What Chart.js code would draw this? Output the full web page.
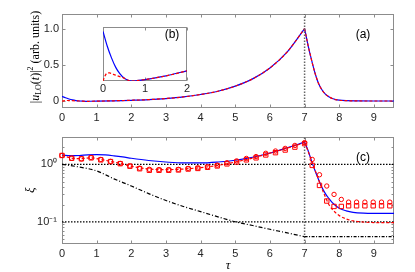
<!DOCTYPE html>
<html lang="en">
<head>
  <meta charset="UTF-8">
  <title>|u_LO(t)|^2 and xi vs tau</title>
  <script src="https://cdn.jsdelivr.net/npm/chart.js"></script>
  <style>
    * { margin: 0; padding: 0; box-sizing: border-box; }
    body { width: 415px; height: 272px; background: #fff; position: relative; overflow: hidden; }
    canvas { position: absolute; }
    #top { left: 0; top: 0; }
    #bottom { left: 0; top: 125px; }
    #inset { left: 97px; top: 24px; }
  </style>
</head>
<body>
  <canvas id="top" width="415" height="125"></canvas>
  <canvas id="bottom" width="415" height="147"></canvas>
  <canvas id="inset" width="95" height="72"></canvas>

  <script>
    const tSwitch = 7;
    const xMax = 9.58;
    const xTicks = [0, 1, 2, 3, 4, 5, 6, 7, 8, 9];
    const uTicks = [0, 0.5, 1];
    const insetTicks = [0, 1, 2];
    const xiTicks = [0.1, 1];
    const xiMinor = [0.05, 0.06, 0.07, 0.08, 0.09, 0.2, 0.3, 0.4, 0.5, 0.6, 0.7, 0.8, 0.9, 2, 3];

    // panel (a)/(b): |u_LO(t)|^2
    const tRise = [0, 0.1, 0.2, 0.3, 0.4, 0.5, 0.6, 0.7, 0.8, 1, 1.5, 2, 2.5, 3, 3.5, 4, 4.5, 5, 5.5, 6, 6.5, 7];
    const uRise = [0.07, 0.05, 0.034, 0.021, 0.012, 0.006, 0.003, 0.002, 0.0025, 0.004, 0.009, 0.016, 0.025, 0.04, 0.062, 0.095, 0.14, 0.21, 0.31, 0.46, 0.68, 1.0];
    const tFall = [7, 7.1, 7.2, 7.3, 7.4, 7.5, 7.6, 7.7, 7.8, 7.9, 8.0, 8.2, 8.5, 9, 9.6];
    const uFall = [1.0, 0.77, 0.57, 0.39, 0.25, 0.16, 0.1, 0.065, 0.04, 0.025, 0.017, 0.01, 0.007, 0.006, 0.006];
    const tRedStart = [0, 0.04, 0.08, 0.12, 0.16, 0.2, 0.25, 0.3, 0.4, 0.5];
    const uRedStart = [0.002, 0.008, 0.012, 0.013, 0.013, 0.012, 0.011, 0.01, 0.008, 0.006];

    // panel (c): xi
    const tXiBlue = [0, 0.25, 0.5, 0.75, 1, 1.25, 1.5, 1.75, 2, 2.5, 3, 3.5, 4, 4.5, 5, 5.5, 6, 6.5, 7];
    const xiBlue = [1.45, 1.42, 1.43, 1.47, 1.48, 1.46, 1.41, 1.35, 1.28, 1.17, 1.1, 1.06, 1.06, 1.1, 1.18, 1.33, 1.58, 1.95, 2.45];
    const tXiRed = [0, 0.28, 0.56, 0.84, 1.12, 1.4, 1.68, 1.96, 2.5, 3, 3.5, 4, 4.5, 5, 5.5, 6, 6.5, 7];
    const xiRed = [1.43, 1.29, 1.26, 1.3, 1.22, 1.13, 1.04, 0.94, 0.83, 0.81, 0.83, 0.88, 0.96, 1.1, 1.29, 1.57, 1.92, 2.4];
    const tXiFall = [7, 7.1, 7.2, 7.3, 7.4, 7.5, 7.6, 7.7, 7.8, 7.9, 8, 8.2, 8.4, 8.7, 9, 9.6];
    const xiBlueFall = [2.45, 1.75, 1.15, 0.78, 0.55, 0.4, 0.31, 0.255, 0.215, 0.19, 0.172, 0.155, 0.146, 0.141, 0.14, 0.14];
    const xiRedFall = [2.4, 1.7, 1.15, 0.8, 0.55, 0.38, 0.27, 0.2, 0.165, 0.143, 0.128, 0.112, 0.104, 0.099, 0.097, 0.097];
    const tXiBlack = [0, 0.5, 1, 1.5, 2, 2.5, 3, 3.5, 4, 4.5, 5, 5.5, 6, 6.5, 7];
    const xiBlack = [1.0, 0.9, 0.77, 0.56, 0.42, 0.31, 0.235, 0.185, 0.15, 0.122, 0.1, 0.086, 0.074, 0.064, 0.055];
    const xiFloor = 0.055;
    const xiLevels = [1, 0.1];

    const tMarks = [0, 0.28, 0.56, 0.84, 1.12, 1.4, 1.68, 1.96, 2.24, 2.52, 2.8, 3.08, 3.36, 3.64, 3.92, 4.2, 4.48, 4.76, 5.04, 5.32, 5.6, 5.88, 6.16, 6.44, 6.72, 7.0,
                    7.22, 7.43, 7.64, 7.85, 8.06, 8.27, 8.5, 8.74, 8.98, 9.22, 9.46];
    const xiCircles = [1.43, 1.28, 1.25, 1.32, 1.22, 1.13, 1.04, 0.94, 0.86, 0.82, 0.81, 0.81, 0.82, 0.85, 0.87, 0.91, 0.97, 1.07, 1.15, 1.27, 1.37, 1.56, 1.71, 1.9, 2.14, 2.4,
                       1.22, 0.66, 0.42, 0.3, 0.245, 0.22, 0.22, 0.22, 0.22, 0.22, 0.22];
    const xiSquares = [1.43, 1.28, 1.25, 1.3, 1.2, 1.12, 1.03, 0.93, 0.84, 0.79, 0.79, 0.79, 0.8, 0.83, 0.85, 0.89, 0.94, 1.02, 1.1, 1.2, 1.3, 1.46, 1.6, 1.78, 2.0, 2.3,
                       0.96, 0.43, 0.23, 0.185, 0.185, 0.19, 0.19, 0.19, 0.19, 0.19, 0.19];

    const BLUE = '#0000ff', RED = '#ff0000';
    const SANS = "'Liberation Sans', Arial, sans-serif";
    const SERIF = "'Liberation Serif', 'Times New Roman', serif";
    Chart.defaults.font.family = SANS;
    Chart.defaults.font.size = 11;
    Chart.defaults.color = '#262626';

    const pts = (xs, ys) => xs.map((x, i) => ({ x, y: ys[i] }));

    function line(data, color, dash, order, smooth) {
      return {
        data, showLine: true, borderColor: color, borderDash: dash, borderWidth: 1.2,
        pointRadius: 0, fill: false, order,
        cubicInterpolationMode: smooth ? 'monotone' : 'default', tension: 0
      };
    }
    function marks(data, style, radius, order) {
      return {
        data, showLine: false, pointStyle: style, pointRadius: radius, borderWidth: 1,
        borderColor: RED, backgroundColor: 'rgba(0,0,0,0)', order, clip: 6
      };
    }

    // box, inward ticks and panel letter
    const frame = {
      id: 'frame',
      beforeDatasetsDraw(chart, args, o) {
        const { ctx, chartArea: a, scales: { x, y } } = chart;
        const L = Math.round(a.left) + 0.5, R = Math.round(a.right) - 0.5;
        const T = Math.round(a.top) + 0.5, B = Math.round(a.bottom) - 0.5;
        ctx.save();
        ctx.strokeStyle = '#8c8c8c';
        ctx.lineWidth = 1;
        ctx.beginPath();
        x.ticks.forEach(t => {
          const p = Math.round(x.getPixelForValue(t.value)) + 0.5;
          ctx.moveTo(p, B); ctx.lineTo(p, B - 3);
          ctx.moveTo(p, T); ctx.lineTo(p, T + 3);
        });
        (o.yTicks || []).forEach(v => {
          const p = Math.round(y.getPixelForValue(v)) + 0.5;
          ctx.moveTo(L, p); ctx.lineTo(L + 3, p);
          ctx.moveTo(R, p); ctx.lineTo(R - 3, p);
        });
        (o.yMinor || []).forEach(v => {
          const p = Math.round(y.getPixelForValue(v)) + 0.5;
          ctx.moveTo(L, p); ctx.lineTo(L + 2, p);
          ctx.moveTo(R, p); ctx.lineTo(R - 2, p);
        });
        ctx.stroke();
        ctx.strokeRect(L, T, R - L, B - T);
        ctx.restore();
      },
      afterDraw(chart, args, o) {
        if (!o.label) return;
        const ctx = chart.ctx;
        ctx.save();
        ctx.font = '12px ' + SANS;
        ctx.fillStyle = '#000';
        ctx.textAlign = 'center';
        ctx.textBaseline = 'middle';
        ctx.fillText(o.label, o.lx, o.ly);
        ctx.restore();
      }
    };

    // y label of (a) with sub/superscripts
    const uLabel = {
      id: 'uLabel',
      afterDraw(chart) {
        const ctx = chart.ctx;
        const runs = [
          { s: '|', f: '12px ', dy: 0 },
          { s: 'u', f: 'italic 12px ', dy: 0 },
          { s: 'LO', f: '8px ', dy: 3 },
          { s: '(', f: '12px ', dy: 0 },
          { s: 't', f: 'italic 12px ', dy: 0 },
          { s: ')|', f: '12px ', dy: 0 },
          { s: '2', f: '8px ', dy: -5 },
          { s: ' (arb. units)', f: '12px ', dy: 0 }
        ];
        ctx.save();
        ctx.translate(36, 57);
        ctx.rotate(-Math.PI / 2);
        ctx.fillStyle = '#000';
        ctx.textBaseline = 'middle';
        let w = 0;
        runs.forEach(r => { ctx.font = r.f + SERIF; r.w = ctx.measureText(r.s).width; w += r.w; });
        let px = -w / 2;
        runs.forEach(r => { ctx.font = r.f + SERIF; ctx.fillText(r.s, px, r.dy); px += r.w; });
        ctx.restore();
      }
    };

    function xScale(min, max, ticks, height, pad) {
      return {
        type: 'linear', min, max,
        grid: { display: false, drawTicks: false }, border: { display: false },
        afterBuildTicks: s => { s.ticks = ticks.map(v => ({ value: v })); },
        afterFit: s => { s.height = height; },
        ticks: { padding: pad, maxRotation: 0, autoSkip: false }
      };
    }

    // (a)
    const redTop = pts(tRedStart, uRedStart).concat(pts(tRise, uRise).filter(p => p.x > 0.5));
    new Chart(document.getElementById('top'), {
      type: 'scatter',
      data: {
        datasets: [
          line(pts(tRise, uRise), BLUE, [], 3, true),
          line(pts(tFall, uFall), BLUE, [], 3, true),
          line(redTop, RED, [3, 2], 2, true),
          line(pts(tFall, uFall), RED, [3, 2], 2, true),
          { ...line([{ x: tSwitch, y: -0.09 }, { x: tSwitch, y: 1.2 }], '#666', [1.5, 1.5], 1, false), borderWidth: 1.5 }
        ]
      },
      options: {
        responsive: false, animation: false,
        layout: { padding: { top: 14, right: 21, left: 0, bottom: 0 } },
        plugins: {
          legend: { display: false }, tooltip: { enabled: false },
          frame: { label: '(a)', lx: 363, ly: 35, yTicks: uTicks }
        },
        scales: {
          x: xScale(0, xMax, xTicks, 17, 3),
          y: {
            type: 'linear', min: -0.09, max: 1.2,
            grid: { display: false, drawTicks: false }, border: { display: false },
            afterBuildTicks: s => { s.ticks = uTicks.map(v => ({ value: v })); },
            afterFit: s => { s.width = 62; },
            ticks: { padding: 3 }
          }
        }
      },
      plugins: [frame, uLabel]
    });

    // (b) inset
    const insetBlue = pts(tRise, uRise).filter(p => p.x <= 2);
    const insetRed = redTop.filter(p => p.x <= 2);
    new Chart(document.getElementById('inset'), {
      type: 'scatter',
      data: {
        datasets: [
          line(insetBlue, BLUE, [], 2, true),
          line(insetRed, RED, [3, 2], 1, true)
        ]
      },
      options: {
        responsive: false, animation: false,
        layout: { padding: { top: 3, right: 5, left: 0, bottom: 0 } },
        plugins: {
          legend: { display: false }, tooltip: { enabled: false },
          frame: { label: '(b)', lx: 75, ly: 11, yTicks: [] }
        },
        scales: {
          x: xScale(0, 2, insetTicks, 15, 1),
          y: {
            type: 'linear', min: 0.002, max: 0.076,
            grid: { display: false, drawTicks: false }, border: { display: false },
            ticks: { display: false },
            afterFit: s => { s.width = 6; }
          }
        }
      },
      plugins: [frame]
    });

    // (c)
    const xiMin = 0.041, xiMax = 3.05;
    const levelSets = xiLevels.map(v => line([{ x: 0, y: v }, { x: xMax, y: v }], '#000', [1.5, 1.5], 5, false));
    new Chart(document.getElementById('bottom'), {
      type: 'scatter',
      data: {
        datasets: [
          ...levelSets,
          line([{ x: tSwitch, y: xiFloor }, { x: xMax, y: xiFloor }], '#000', [3, 1.5, 1, 1.5], 5, false),
          line(pts(tXiBlack, xiBlack), '#000', [4, 2, 1, 2], 4, true),
          { ...line([{ x: tSwitch, y: xiMin }, { x: tSwitch, y: xiMax }], '#666', [1.5, 1.5], 6, false), borderWidth: 1.5 },
          line(pts(tXiBlue, xiBlue), BLUE, [], 3, true),
          line(pts(tXiFall, xiBlueFall), BLUE, [], 3, true),
          line(pts(tXiRed, xiRed), RED, [3, 2], 2, true),
          line(pts(tXiFall, xiRedFall), RED, [3, 2], 2, true),
          marks(pts(tMarks, xiCircles), 'circle', 2.2, 1),
          marks(pts(tMarks, xiSquares), 'rect', 3.1, 1)
        ]
      },
      options: {
        responsive: false, animation: false,
        layout: { padding: { top: 10, right: 21, left: 0, bottom: 0 } },
        plugins: {
          legend: { display: false }, tooltip: { enabled: false },
          frame: { label: '(c)', lx: 363, ly: 33, yTicks: xiTicks, yMinor: xiMinor }
        },
        scales: {
          x: {
            ...xScale(0, xMax, xTicks, 28, 3),
            title: { display: true, text: 'τ', font: { family: SERIF, style: 'italic', size: 13, lineHeight: 1 }, color: '#000', padding: { top: 0, bottom: 0 } }
          },
          y: {
            type: 'logarithmic', min: xiMin, max: xiMax,
            grid: { display: false, drawTicks: false }, border: { display: false },
            afterBuildTicks: s => { s.ticks = xiTicks.map(v => ({ value: v })); },
            afterFit: s => { s.width = 62; },
            ticks: { padding: 5, callback: v => (v === 1 ? '10⁰' : '10⁻¹') },
            title: { display: true, text: 'ξ', font: { family: SERIF, style: 'italic', size: 13, lineHeight: 1 }, color: '#000', padding: { top: 24, bottom: 0 } }
          }
        }
      },
      plugins: [frame]
    });
  </script>
</body>
</html>
